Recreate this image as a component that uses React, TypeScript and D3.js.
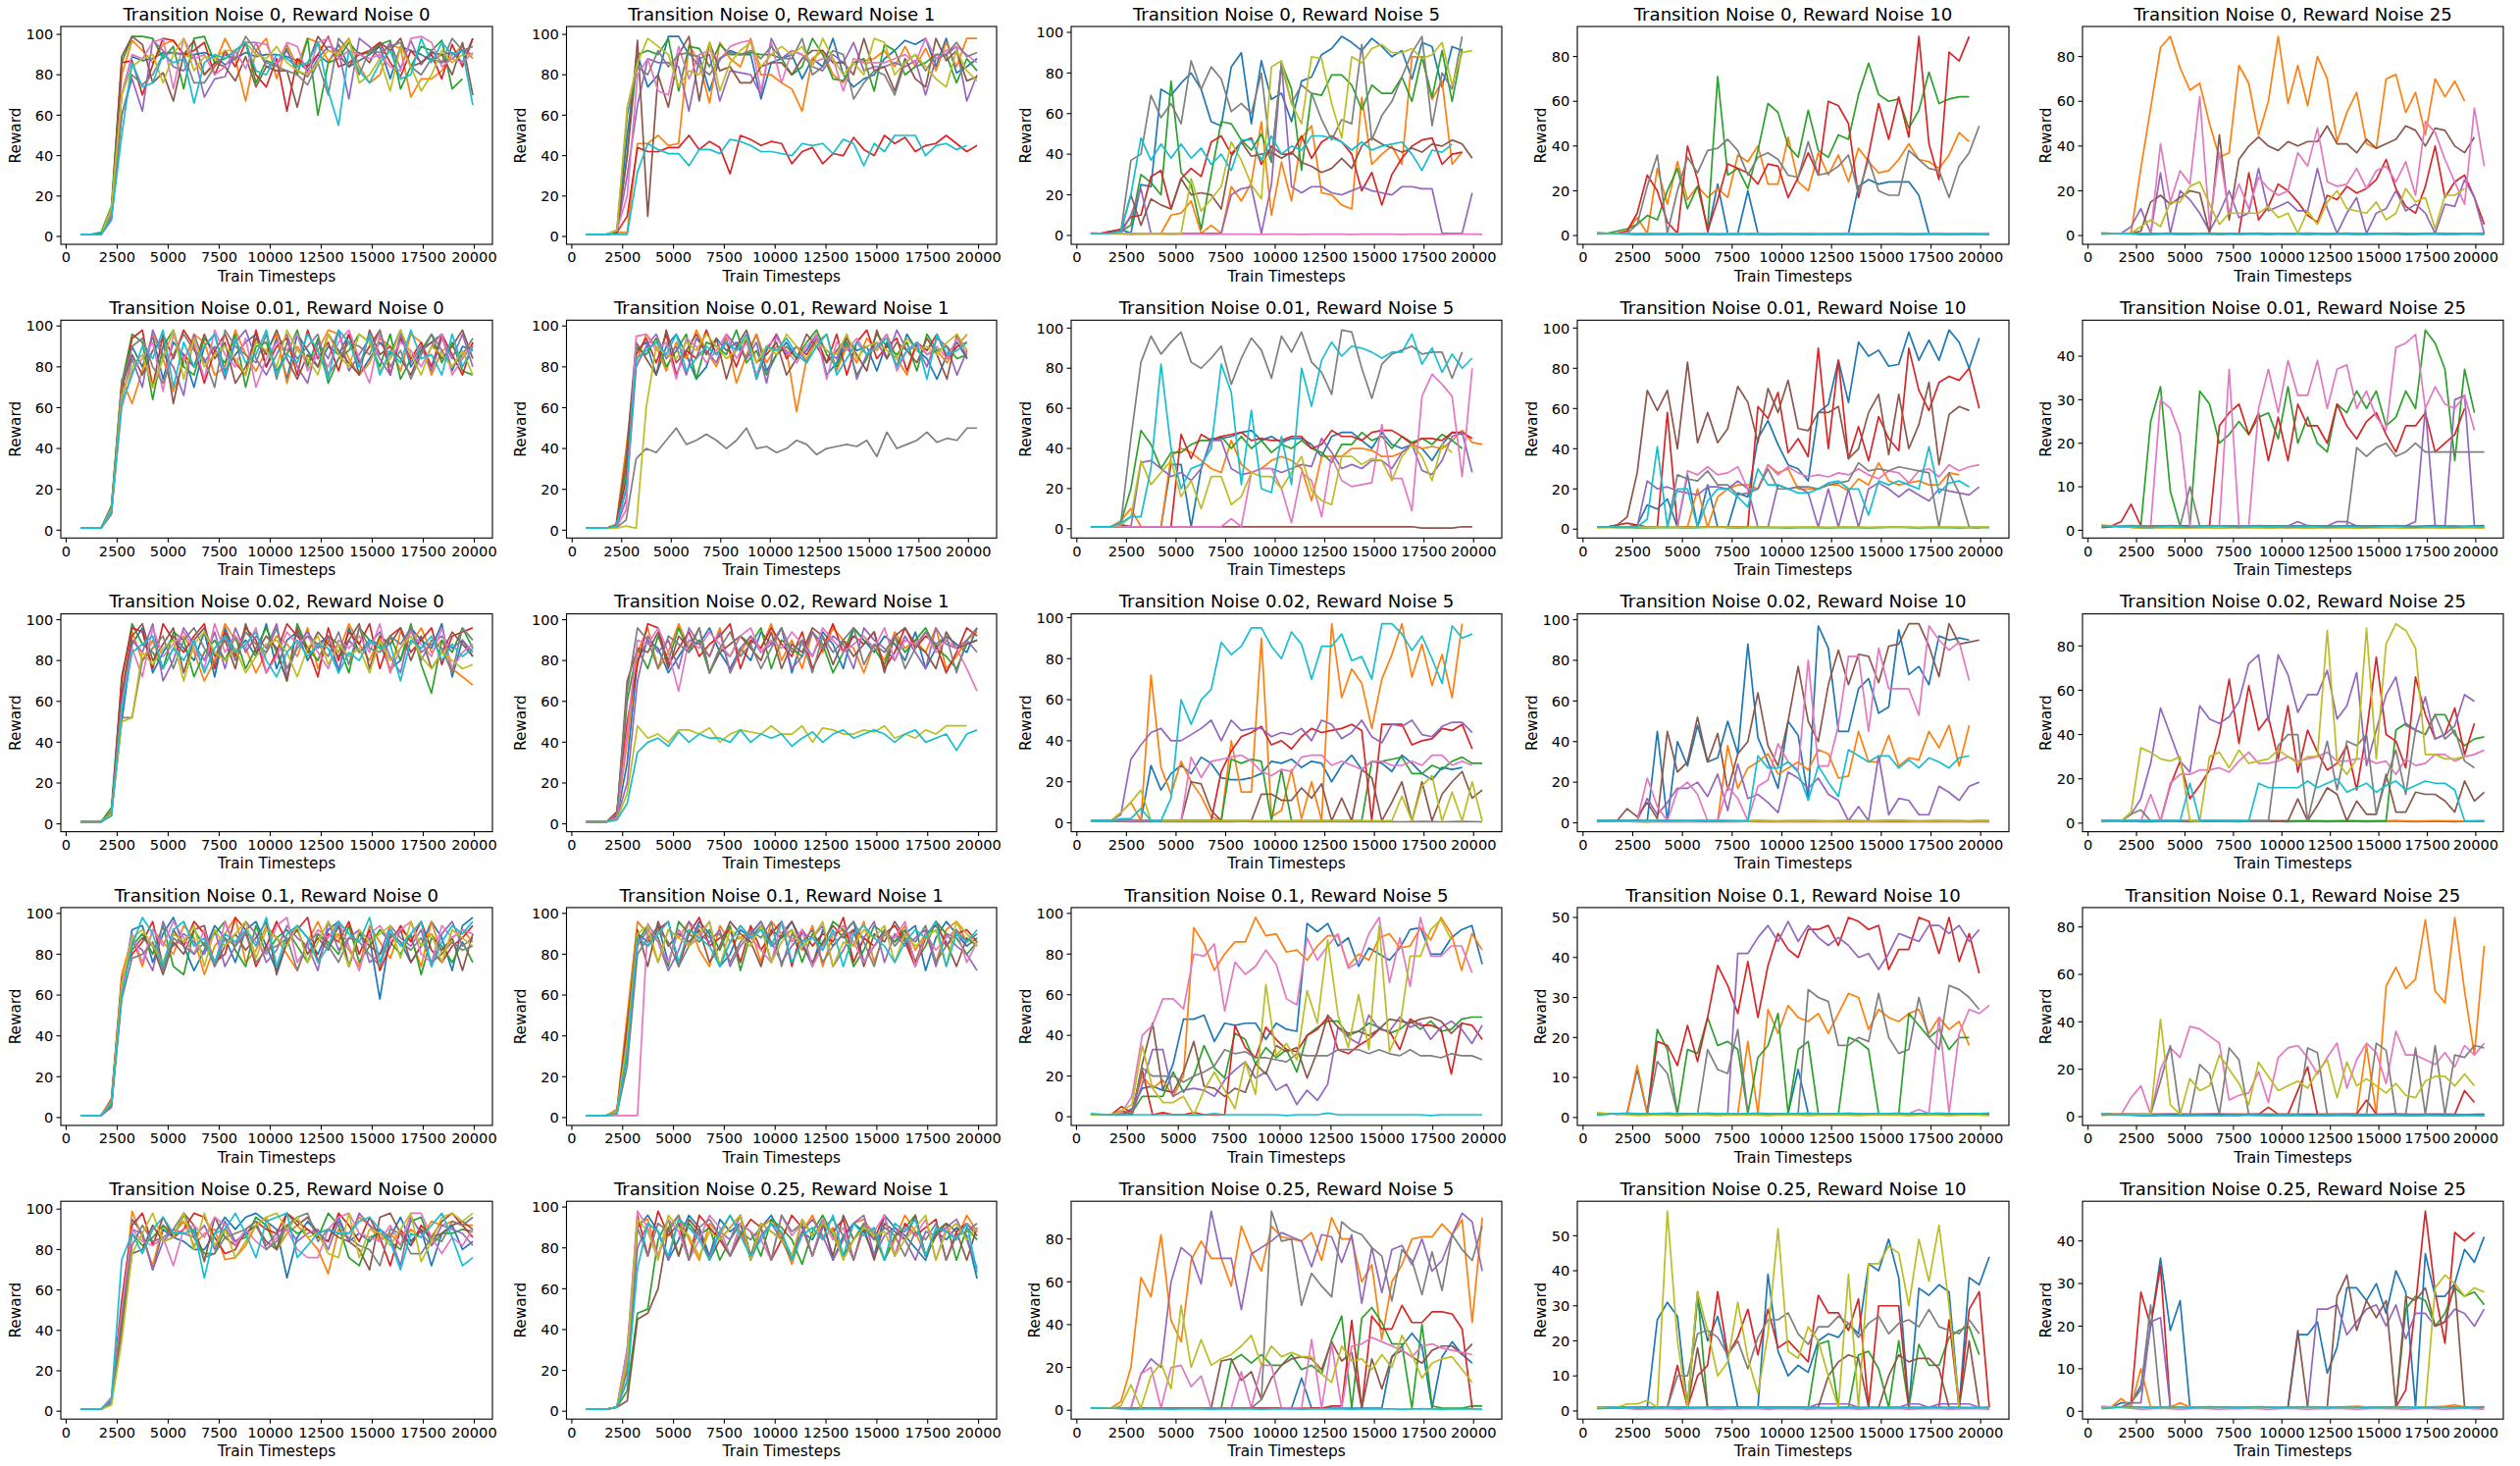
import React from "react";
import * as d3 from "d3";

const TIMESTEPS = [700, 1206, 1712, 2218, 2724, 3230, 3736, 4242, 4748, 5254, 5760, 6266, 6772, 7278, 7784, 8290, 8796, 9302, 9808, 10314, 10820, 11326, 11832, 12338, 12844, 13350, 13856, 14362, 14868, 15374, 15880, 16386, 16892, 17398, 17904, 18410, 18916, 19422, 19928, 20434];
const X_TICKS = [0, 2500, 5000, 7500, 10000, 12500, 15000, 17500, 20000];
const TRANSITION_NOISE = ["0", "0.01", "0.02", "0.1", "0.25"];
const REWARD_NOISE = ["0", "1", "5", "10", "25"];
const COLORS = ["#1f77b4", "#ff7f0e", "#2ca02c", "#d62728", "#9467bd", "#8c564b", "#e377c2", "#7f7f7f", "#bcbd22", "#17becf"];

const FLAT_A = "1 1 0.8 0.9 0.7 0.6 0.8 0.9 0.8 0.7 0.8 0.9 1 0.8 0.7 0.8 0.9 0.8 0.8 0.7 0.8 0.9 0.8 0.7 0.8 0.9 0.8 0.7 0.8 0.9 1 0.8 0.7 0.8 0.9 0.8 0.7 0.8 0.9 0.8";
const FLAT_B = "1.2 1 0.9 0.7 0.5 0.6 0.7 0.6 0.5 0.6 0.7 0.6 0.5 0.6 0.6 0.7 0.6 0.5 0.6 0.7 0.6 0.5 0.6 0.6 0.7 0.6 0.5 0.6 0.7 0.6 0.6 0.5 0.6 0.7 0.6 0.5 0.6 0.7 0.6 0.5";
const FLAT_C = "0.6 0.8 1 1.1 1 0.9 1 1.1 1 0.9 1 1.1 1 1 0.9 1 1.1 1 0.9 1 1 1.1 1 0.9 1 1.1 1 0.9 1 1 1.1 1 0.9 1 1.1 1 1 0.9 1 1.1";

// ---------- Transition Noise 0 ----------
const TN0_RN0 = [
  "1 1 1 9 70 89 87 88 91 91 90 90 91 89 85 88 91 89 90 90 89 87 82 90 86 95 84 87 90 94 78 94 92 90 87 90 91 86 98",
  "1 1 1 12 80 97 92 86 95 97 90 88 80 85 98 88 67 92 98 78 95 84 98 96 87 92 98 84 76 80 95 93 69 78 78 82 90 94 88",
  "1 1 2 15 86 99 99 98 88 94 73 98 99 86 88 92 96 76 87 85 93 80 98 60 86 88 96 90 91 95 97 73 84 94 92 97 73 78",
  "1 1 1 10 86 87 70 85 98 97 90 92 96 80 92 84 96 80 74 88 62 88 84 90 99 84 86 90 92 96 86 79 92 86 90 78 95 84 98",
  "1 1 1 8 60 78 62 97 92 84 82 90 69 78 79 92 96 96 84 85 92 82 79 88 94 92 68 98 94 88 96 83 97 85 92 86 88 92 90",
  "1 1 1 12 89 99 95 76 81 67 90 97 80 86 84 77 89 74 84 82 82 64 85 99 92 90 84 91 86 96 92 98 84 86 91 90 80 96 70",
  "1 1 1 12 70 90 88 96 98 73 98 88 90 80 84 92 83 96 95 85 96 94 80 96 98 88 92 90 88 90 84 82 98 99 96 84 88 86 91",
  "1 1 1 10 60 80 75 80 90 91 90 76 76 84 90 88 99 92 86 84 82 80 75 86 70 98 92 80 92 91 94 96 84 80 88 86 98 92 94",
  "1 1 1 14 70 84 88 90 76 90 98 82 89 88 92 92 96 90 88 94 86 82 80 86 92 90 98 76 80 88 72 94 84 72 80 92 86 90 90",
  "1 1 1 9 50 86 74 76 90 86 88 66 86 90 88 92 96 82 80 90 88 84 86 96 72 55 92 82 76 86 92 78 80 98 86 96 90 92 65",
];
const TN0_RN1 = [
  "1 1 1 2 50 90 74 80 99 99 90 89 72 88 92 90 90 68 86 88 90 78 88 84 98 80 74 78 80 88 92 97 95 98 84 98 81 84 88",
  "1 1 1 2 2 46 46 50 45 46 95 86 66 96 88 84 98 80 80 76 73 62 88 92 80 76 86 87 88 92 84 94 84 93 82 96 84 98 98",
  "1 1 1 3 40 90 92 90 98 72 94 93 84 95 90 90 91 90 90 88 80 84 98 90 78 77 86 88 72 95 92 80 84 86 90 90 76 88 82",
  "1 1 1 2 10 44 42 42 44 44 50 43 47 44 31 50 48 45 47 46 36 42 44 36 41 40 49 43 40 50 46 49 42 45 46 50 46 42 45",
  "1 1 1 2 30 65 88 86 86 84 62 88 90 67 82 81 80 70 98 88 92 90 84 82 90 86 96 82 84 84 86 84 87 70 88 90 94 67 80",
  "1 1 1 2 40 97 10 80 64 90 99 67 96 82 84 76 76 84 86 86 80 88 92 92 86 86 80 98 82 84 72 88 78 74 98 87 92 77 79",
  "1 1 1 3 20 80 88 72 70 94 78 90 92 87 94 96 97 72 96 76 92 90 86 88 88 72 88 86 86 86 88 90 86 98 88 92 94 90 86",
  "1 1 1 3 60 84 80 92 84 90 91 84 80 88 91 90 92 88 94 88 88 98 80 84 92 90 68 76 82 80 70 86 90 82 90 90 96 89 91",
  "1 1 1 3 64 86 98 94 90 74 82 80 96 72 86 92 96 84 90 94 90 94 84 98 88 80 86 80 98 96 80 86 90 84 78 74 92 82 77",
  "1 1 1 1 1 32 46 43 41 41 35 43 43 41 48 47 45 42 42 41 40 46 45 46 41 48 46 35 46 42 50 50 50 40 45 46 43 45",
];
const TN0_RN5 = [
  "1 1 2 3 1 25 24 72 69 75 80 72 56 54 83 90 55 86 67 70 56 76 78 89 92 98 95 91 97 93 88 91 77 95 93 73 93 91",
  "1 1 1 1 1 1 1 1 10 11 17 1 5 1 24 17 26 56 10 36 17 48 54 21 20 15 13 68 35 40 44 35 88 88 67 76 35 41",
  "1 1 1 2 5 30 26 20 76 31 25 3 30 56 55 47 42 50 36 85 72 32 70 69 79 79 74 62 74 70 70 78 66 88 68 91 66 92",
  "1 1 2 3 9 10 29 32 13 28 33 29 46 49 40 46 48 35 44 40 40 49 38 46 49 46 40 22 31 15 30 38 44 47 48 35 40 41",
  "1 1 1 1 10 23 1 1 1 1 1 1 1 1 20 23 24 1 25 85 24 21 24 24 21 20 22 24 22 21 20 24 24 23 23 1 1 1 21",
  "1 1 1 2 20 5 18 15 13 28 20 21 20 13 39 46 39 40 41 38 41 36 34 31 33 38 33 44 48 45 43 41 43 41 45 44 47 45 38",
  FLAT_B,
  "1 1 1 2 37 40 69 58 65 55 86 72 83 77 61 65 60 80 37 84 65 74 70 57 47 57 55 94 47 59 66 78 90 98 54 80 72 98",
  "1 1 1 1 1 1 1 1 1 1 28 12 18 24 46 37 25 18 83 86 65 55 88 87 65 48 88 85 92 94 90 90 92 87 89 95 74 90 91",
  "1 1 1 2 20 48 37 45 38 45 38 43 35 40 32 47 47 37 49 40 44 42 49 49 48 46 42 46 42 44 45 46 40 32 42 41 45",
];
const TN0_RN10 = [
  "1 1 1 1 1 1 1 1 1 1 1 1 23 1 1 20 1 1 1 1 1 1 1 1 1 1 22 25 23 24 24 24 18 1 1 1 1 1 1",
  "1 1 1 2 8 1 30 14 33 16 22 17 21 17 36 33 40 23 23 44 24 20 37 27 36 24 39 33 28 29 34 41 34 33 30 36 46 42",
  "1 1 2 3 5 9 7 20 30 12 22 3 71 27 30 21 38 59 55 40 35 56 38 35 45 43 63 77 63 60 61 48 56 73 59 61 62 62",
  "1 1 1 2 10 27 20 6 1 40 25 2 16 32 30 28 23 32 31 17 26 37 27 60 58 50 17 36 59 43 62 44 89 41 25 82 78 89",
  FLAT_A,
  FLAT_B,
  FLAT_C,
  "1 1 1 1 5 22 36 1 20 35 28 38 39 43 38 27 35 37 34 27 26 42 27 28 31 36 19 34 20 18 18 38 34 30 29 17 31 37 49",
  FLAT_A,
  FLAT_B,
];
const TN0_RN25 = [
  FLAT_A,
  "1 1 1 1 30 57 84 89 75 65 68 50 35 37 76 68 45 60 89 59 76 58 80 70 42 55 64 41 39 70 72 55 64 45 70 62 69 60",
  FLAT_B,
  "1 1 1 1 1 1 1 1 1 1 1 1 1 1 1 28 7 13 23 20 15 9 6 18 16 22 19 21 25 34 21 13 10 22 40 17 24 27 17 5",
  "1 1 1 4 12 1 28 1 20 16 10 2 10 20 8 10 30 11 13 15 11 11 30 12 1 10 17 1 10 12 20 11 14 10 1 14 13 25 17 1",
  "1 1 1 1 2 15 18 14 17 20 19 1 45 7 34 40 44 40 38 42 40 42 42 49 41 41 37 43 39 41 43 49 47 40 48 47 40 37 44",
  "1 1 1 1 1 1 41 15 29 23 62 5 37 10 23 12 26 21 18 20 37 31 48 24 22 23 30 21 29 31 24 33 18 51 46 34 24 14 57 31",
  FLAT_C,
  "1 1 1 1 4 7 4 15 15 22 24 14 5 10 10 10 10 13 8 10 1 11 5 15 20 12 11 10 15 7 10 21 15 17 3 18 18 21",
  FLAT_A,
];

// ---------- Transition Noise 0.01 ----------
const TN001_RN0 = [
  "1 1 1 8 70 90 80 95 74 92 86 70 90 96 78 86 92 96 80 94 74 96 88 80 90 86 96 76 84 92 86 98 80 88 92 96 78 90 88",
  "1 1 1 10 74 62 78 96 84 68 82 96 92 76 80 98 86 78 88 96 72 90 82 88 98 96 84 76 82 94 90 78 96 92 76 88 90 84 92",
  "1 1 1 12 72 96 92 64 90 98 80 76 94 88 82 96 70 90 92 78 86 98 80 94 72 84 88 96 92 80 96 74 84 88 96 82 92 78 76",
  "1 1 1 10 68 94 98 70 96 84 98 90 72 88 96 82 76 98 80 90 94 76 98 84 92 78 96 82 90 98 76 94 84 92 80 96 86 76 92",
  "1 1 1 8 64 84 70 98 86 80 66 96 82 90 74 92 98 84 76 86 96 80 72 92 84 98 78 86 94 84 76 96 82 90 78 94 84 96 80",
  "1 1 1 10 70 86 76 88 94 62 86 80 96 84 92 72 80 94 86 98 84 74 86 80 96 88 82 76 98 86 90 84 76 88 92 84 90 98 84",
  "1 1 1 9 60 78 84 92 68 96 84 92 74 98 86 80 94 70 84 92 88 96 78 86 80 92 98 84 72 96 84 92 88 80 90 96 76 84 90",
  "1 1 1 11 72 90 94 80 72 86 96 88 84 70 98 90 86 82 96 74 92 84 90 96 76 84 92 90 86 98 80 88 74 86 96 88 80 86 94",
  "1 1 1 10 66 80 86 70 84 98 74 94 80 86 90 84 76 92 88 80 98 88 84 76 96 86 80 96 92 78 84 98 86 76 90 86 80 88 76",
  "1 1 1 9 62 76 90 84 98 70 92 80 90 96 76 94 82 86 98 76 86 82 96 88 74 98 92 80 96 76 88 82 98 84 86 76 96 80 90",
];
const TN001_RN1 = [
  "1 1 1 2 20 88 92 76 90 96 86 74 80 94 88 92 84 96 78 86 92 84 88 96 76 82 94 88 90 78 92 80 96 88 84 74 86 92 84",
  "1 1 1 3 40 82 96 90 78 92 84 98 88 80 94 72 86 96 82 90 88 58 84 92 96 78 90 82 94 88 96 84 76 92 86 88 82 90 96",
  "1 1 1 2 30 90 86 94 80 88 96 74 92 90 86 98 82 88 76 86 90 84 92 98 86 80 92 76 84 96 90 86 92 78 96 88 90 84 86",
  "1 1 1 2 25 86 94 82 96 76 88 84 98 86 92 80 94 74 88 96 84 90 86 94 82 96 76 92 98 84 90 94 78 92 88 96 84 90 92",
  "1 1 1 1 15 80 90 96 84 90 76 94 88 82 96 90 84 92 72 96 86 90 82 94 88 84 96 74 86 92 84 98 88 90 80 94 90 76 88",
  "1 1 1 2 35 92 84 76 98 82 88 96 86 94 74 90 98 82 86 92 76 84 96 90 82 88 94 86 78 98 84 92 88 82 94 86 74 96 84",
  "1 1 1 1 10 95 96 88 92 74 94 90 82 88 96 84 92 76 90 94 88 82 90 96 74 92 88 94 86 90 96 78 88 92 86 90 84 94 86",
  "1 1 1 1 5 35 40 38 44 50 42 44 47 44 40 44 50 40 41 38 40 44 42 37 40 41 42 41 44 36 48 40 42 44 48 43 45 44 50 50",
  "1 1 1 1 2 1 60 90 86 84 92 88 96 90 84 88 94 82 90 86 96 90 84 92 88 86 96 84 90 92 88 84 94 88 90 86 92 96 88",
  "1 1 1 2 20 84 88 92 86 96 78 84 90 86 92 88 96 74 90 88 94 86 82 90 96 76 84 92 86 90 94 80 88 92 74 96 86 88 92",
];
const TN001_RN5 = [
  "1 1 1 2 1 1 1 1 32 32 1 30 45 45 46 48 49 44 46 43 45 45 42 36 46 48 48 44 40 48 42 40 42 40 34 42 48 47",
  "1 1 1 4 10 1 1 1 36 40 38 34 30 28 44 32 28 30 34 36 34 30 14 36 36 36 40 40 39 36 36 38 42 40 41 40 44 49 43 42",
  "1 1 1 3 20 49 42 30 38 38 42 44 44 46 40 46 40 44 38 42 40 44 40 38 33 42 42 48 44 46 40 46 43 45 42 47 44 40",
  "1 1 1 2 1 1 1 1 1 47 35 47 44 46 47 48 44 45 44 44 46 46 40 42 49 46 46 44 48 49 49 46 42 45 45 44 48 48 45",
  "1 1 1 1 1 33 34 30 26 28 24 30 44 44 30 27 28 30 30 28 30 32 31 45 38 30 32 30 34 34 30 38 42 29 27 34 46 48 28",
  "1 1 1 1 1 1 1 1 1 1 1 1 1 1 1 1 1 1 1 1 1 1 1 1 1 1 1 1 1 1 1 1 1 0.3 0.3 0.3 0.3 1 1",
  "1 1 1 1 1 1 1 1 1 1 1 1 1 1 5 1 28 30 30 20 3 28 24 6 36 24 21 22 23 52 25 25 9 66 77 72 66 26 80",
  "1 1 1 3 45 83 96 87 93 98 83 80 85 91 72 85 95 89 75 96 88 98 83 78 67 99 98 80 65 82 87 89 91 87 88 88 75 88",
  "1 1 1 2 6 34 22 28 34 16 24 10 26 26 12 16 28 26 26 20 28 36 19 14 12 36 36 32 35 34 24 36 42 36 24 42 38",
  "1 1 1 3 6 6 30 82 40 20 30 32 40 82 68 22 59 20 18 46 22 80 61 84 93 86 91 90 88 85 88 88 97 82 90 78 87 80 85",
];
const TN001_RN10 = [
  "1 1 1 1 2 12 10 15 1 27 1 22 1 1 18 16 45 54 42 32 30 24 58 62 84 63 93 86 89 81 82 98 84 94 84 99 93 80 95",
  "1 1 1 1 1 1 1 1 1 1 20 1 16 20 22 22 20 32 28 30 20 20 20 22 22 19 25 22 33 24 22 23 24 22 22 28 27",
  FLAT_A,
  "1 1 2 3 2 1 1 58 1 1 1 1 1 1 1 1 61 55 68 38 45 36 90 40 84 35 51 34 56 45 39 90 69 59 73 76 74 80 60",
  "1 1 1 1 1 24 20 21 19 18 17 21 21 20 24 20 1 1 22 20 21 18 1 20 1 20 1 20 23 20 16 20 17 14 20 19 18 17 21",
  "1 1 2 6 28 69 59 69 40 83 43 58 43 50 71 63 43 70 58 74 50 49 58 58 61 35 40 58 67 37 67 40 52 73 32 57 61 59",
  "1 1 1 1 1 1 1 1 1 29 27 31 27 28 31 20 20 32 27 31 28 26 27 26 28 27 30 27 25 29 28 23 29 30 26 32 29 31 32",
  "1 1 1 1 1 1 1 1 27 25 24 29 22 22 17 18 20 30 20 20 21 21 20 22 23 24 33 29 30 29 31 30 29 28 1 28 18 1 0.5",
  FLAT_C,
  "1 1 1 1 1 5 41 1 20 20 1 14 20 20 16 11 30 22 22 20 18 18 20 23 24 20 20 7 24 22 24 22 20 41 18 23 24 21",
];
const TN001_RN25 = [
  FLAT_A,
  FLAT_B,
  "1 1 1 1 1 25 33 9 1 1 32 29 20 22 25 22 26 27 21 33 20 26 20 18 29 27 32 28 32 24 26 32 28 46 43 37 16 37 27",
  "1 1 2 6 1 1 1 1 1 1 1 1 24 27 29 22 27 16 26 16 29 24 24 20 29 24 21 25 27 22 18 24 24 27 18 20 22 28",
  "1 1 1 1 1 1 1 1 1 1 1 1 1 1 1 1 1 1 1 1 2 1 1 1 2 2 1 1 1 1 1 1 2 28 1 1 30 31 1",
  FLAT_C,
  "1 1 1 1 1 1 30 28 22 1 1 1 1 37 1 1 28 37 27 39 31 31 39 28 37 38 28 32 26 23 42 43 45 28 33 29 28 31 23",
  "1 1 1 1 1 1 1 1 1 10 1 1 1 1 1 1 1 1 1 1 1 1 1 1 1 1 19 17 19 20 17 18 20 18 18 18 18 18 18 18",
  FLAT_B,
  FLAT_A,
];

// ---------- Transition Noise 0.02 ----------
const TN002_RN0 = [
  "1 1 1 5 50 88 96 74 84 92 86 80 94 72 96 84 90 82 98 76 90 94 80 88 92 74 96 84 90 88 76 80 96 90 86 98 72 90 82",
  "1 1 1 6 62 94 80 90 76 86 92 84 70 80 98 90 86 74 84 92 88 82 96 76 90 84 98 88 80 92 74 94 88 96 84 90 76 72 68",
  "1 1 1 8 70 98 88 84 76 94 90 72 84 90 80 92 76 86 96 84 70 98 86 80 92 88 74 96 90 86 92 80 98 78 64 90 84 96 86",
  "1 1 1 4 72 96 94 76 98 90 84 92 98 76 94 82 96 90 74 84 98 92 86 72 96 80 94 88 98 76 92 96 84 90 96 78 92 94 96",
  "1 1 1 5 60 90 84 98 70 80 96 88 80 94 76 96 84 92 86 98 72 88 94 86 92 76 90 84 88 94 82 74 96 84 88 92 86 90 84",
  "1 1 1 6 64 92 98 80 88 96 74 90 96 82 90 76 98 84 92 86 70 96 84 94 88 82 90 98 76 92 88 96 80 92 76 84 94 88 82",
  "1 1 1 5 58 86 72 96 82 88 94 86 76 98 84 92 86 96 74 82 94 88 92 84 76 90 86 92 84 98 74 86 94 88 82 96 76 84 88",
  "1 1 1 6 52 52 80 86 92 76 90 96 86 78 92 80 94 88 84 96 76 86 92 88 82 94 78 96 86 84 92 88 96 80 90 86 74 96 90",
  "1 1 1 5 50 52 84 78 86 90 70 88 94 84 80 86 74 82 88 90 84 72 86 92 78 88 82 86 74 90 80 86 92 82 76 84 80 76 78",
  "1 1 1 4 56 84 88 92 76 86 80 90 74 86 92 84 88 94 80 72 84 90 82 88 86 74 84 80 90 86 88 70 90 86 92 80 88 82 86",
];
const TN002_RN1 = [
  "1 1 1 3 30 80 90 86 74 82 90 88 96 84 76 86 80 94 88 96 74 90 82 94 88 76 96 90 84 92 88 80 94 76 86 92 88 84 96",
  "1 1 1 4 40 84 96 76 84 98 86 90 82 96 74 84 92 86 98 80 90 76 94 84 96 90 86 74 88 80 94 86 90 84 96 76 82 90 94",
  "1 1 1 5 60 86 76 92 80 96 84 90 74 86 82 92 88 96 76 90 86 82 94 88 74 84 96 90 86 78 92 84 90 96 86 82 76 88 90",
  "1 1 1 6 50 78 98 96 78 86 94 82 88 92 98 76 90 86 96 88 82 94 76 86 98 84 92 88 94 76 84 96 86 92 88 74 84 96 92",
  "1 1 1 3 20 70 92 84 90 76 96 88 82 94 74 86 92 84 88 96 76 82 94 86 92 88 76 96 90 86 80 92 84 76 96 88 86 90 84",
  "1 1 1 4 70 86 84 94 76 92 86 96 74 84 88 92 86 80 94 76 88 84 96 92 78 90 82 88 94 74 92 96 88 84 76 94 86 88 90",
  "1 1 1 3 45 90 88 96 84 65 90 86 94 88 82 92 96 84 90 86 94 88 82 96 90 84 88 92 86 96 80 90 88 94 84 90 86 76 65",
  "1 1 1 5 65 96 90 76 92 88 84 96 74 86 94 82 88 76 86 96 84 90 74 92 84 90 96 78 88 84 92 76 86 94 88 92 74 90 96",
  "1 1 1 2 15 48 42 44 40 46 46 44 47 40 44 46 45 44 48 44 44 48 40 47 46 44 44 46 45 48 42 44 42 46 44 48 48 48",
  "1 1 1 2 10 35 40 42 38 45 40 44 42 42 40 46 40 44 42 44 38 42 45 40 44 46 42 44 46 44 40 44 46 40 42 44 36 44 46",
];
const TN002_RN5 = [
  "1 1 1 1 1 1 28 16 24 28 24 32 29 22 21 21 22 24 30 29 31 27 30 29 20 28 33 26 30 29 25 33 29 24 21 27 26 27",
  "1 1 1 5 10 1 72 27 14 30 20 13 3 1 40 15 15 90 3 6 26 2 20 1 97 61 75 68 46 70 82 97 71 87 67 82 61 97",
  "1 1 1 1 1 1 1 1 1 1 1 1 1 1 31 29 31 30 1 26 1 1 1 1 1 1 1 1 30 30 31 32 24 24 28 26 30 32 29 29",
  "1 1 1 1 1 1 1 1 1 1 1 1 1 25 35 42 44 47 38 40 36 42 46 44 45 46 48 45 1 48 48 48 38 40 41 46 45 48 36",
  "1 1 1 4 31 38 44 46 40 40 43 46 50 40 50 45 46 46 42 44 43 46 40 50 48 41 44 50 42 39 48 47 50 43 42 47 49 49 44",
  "1 1 1 1 1 1 1 1 1 1 20 19 6 1 1 1 1 14 14 11 11 17 12 19 1 12 1 26 22 1 10 20 1 20 1 14 20 25 12 16",
  "1 1 1 1 1 1 1 1 1 1 32 22 30 31 32 33 30 25 23 26 25 32 33 33 28 30 28 26 30 30 28 28 30 28 33 33 28 30 28",
  FLAT_B,
  "1 1 1 5 10 16 1 1 1 1 1 1 1 1 1 1 1 1 1 1 1 1 1 1 1 1 1 1 1 1 1 13 1 18 23 1 15 1 20 1",
  "1 1 1 2 2 7 1 1 12 60 48 60 65 88 82 86 95 95 86 80 93 87 70 86 86 92 79 81 70 97 97 92 84 91 80 68 96 90 92",
];
const TN002_RN10 = [
  "1 1 1 1 1 1 45 1 40 28 48 30 32 50 34 88 42 30 17 50 43 12 97 86 45 45 66 71 54 57 95 73 77 68 92 90 91 90",
  "1 1 1 1 1 1 1 1 1 1 1 1 1 38 17 27 30 34 24 27 30 26 36 34 22 23 45 30 30 43 28 32 31 45 37 48 28 48",
  FLAT_A,
  FLAT_B,
  "1 1 1 1 1 12 4 10 17 17 20 13 24 6 29 12 14 10 5 25 22 17 22 14 11 1 8 1 33 4 12 11 4 4 18 15 11 18 20",
  "1 1 1 7 3 10 2 45 25 30 52 30 44 16 34 40 64 38 28 50 77 50 40 68 85 68 83 82 69 87 88 98 98 87 72 98 88 89 90",
  "1 1 1 1 1 22 8 1 16 20 14 1 1 18 12 1 18 21 39 30 26 80 28 28 48 82 82 45 86 66 66 66 53 97 90 85 89 70",
  FLAT_C,
  FLAT_A,
  "1 1 1 1 1 1 1 1 1 1 1 1 1 1 1 1 33 27 27 30 25 11 28 20 13 36 33 30 33 33 27 31 27 32 30 27 32 33",
];
const TN002_RN25 = [
  FLAT_A,
  FLAT_C,
  "1 1 1 1 1 1 1 1 1 1 1 1 1 1 1 1 1 1 1 1 1 1 1 1 1 1 1 1 1 1 42 45 42 40 49 49 40 35 38 39",
  "1 1 1 1 1 1 1 17 28 11 17 24 40 65 36 62 42 48 29 53 23 42 32 24 27 35 15 41 75 40 37 25 66 49 38 40 52 31 45",
  "1 1 1 4 11 27 52 40 28 23 53 47 45 48 55 72 76 46 76 67 50 58 58 69 47 53 68 26 42 58 66 44 42 57 38 40 44 58 55",
  "1 1 1 1 1 1 1 1 1 1 1 1 1 1 1 1 1 1 1 1 11 1 8 16 13 1 10 4 4 22 5 5 14 13 13 10 5 19 10 14",
  "1 1 1 1 1 13 1 18 22 22 24 24 25 23 28 32 27 27 28 30 28 29 30 32 28 28 29 29 27 28 22 29 26 27 31 31 28 30 31 33",
  "1 1 1 4 6 1 1 1 1 1 1 1 1 1 1 1 1 1 35 40 40 1 20 37 15 37 35 40 4 20 33 13 42 40 49 38 42 28 25",
  "1 1 1 5 34 32 29 28 30 1 1 30 32 25 33 27 28 29 33 30 27 30 30 87 28 22 29 88 29 81 90 87 79 31 31 29 29 30",
  "1 1 1 1 1 1 1 1 1 18 1 1 1 1 1 1 18 16 16 16 16 19 16 18 20 14 16 18 14 17 19 15 17 19 18 18 15 1 1 1",
];

// ---------- Transition Noise 0.1 ----------
const TN01_RN0 = [
  "1 1 1 6 62 92 94 76 90 98 84 72 82 94 88 76 92 96 84 72 86 94 88 80 92 96 74 90 88 58 90 86 76 84 96 88 72 94 98",
  "1 1 1 8 70 88 74 92 86 80 94 88 70 84 90 98 76 82 94 88 80 72 86 96 84 90 82 74 94 86 78 92 88 74 96 80 88 92 86",
  "1 1 1 7 66 84 90 80 94 74 70 92 84 90 96 82 74 94 80 88 92 84 76 90 86 80 94 76 84 92 86 80 90 70 88 84 76 86 76",
  "1 1 1 9 68 80 86 96 74 92 84 96 90 76 80 98 92 74 84 96 86 92 98 76 90 86 96 80 92 72 84 94 86 96 82 76 84 88 94",
  "1 1 1 5 60 86 82 72 96 84 90 86 80 92 74 84 96 90 76 82 94 88 84 72 96 82 88 92 76 80 94 88 84 92 74 90 96 84 88",
  "1 1 1 6 64 82 88 84 70 86 80 92 94 74 84 90 82 88 96 70 86 92 80 88 82 94 74 90 84 80 88 92 76 84 90 82 88 72 90",
  "1 1 1 7 62 90 76 92 84 96 88 80 92 74 96 84 92 86 80 94 98 76 84 92 88 96 84 72 90 94 86 92 96 80 76 94 88 92 90",
  "1 1 1 6 58 78 80 86 72 88 84 80 86 74 88 84 90 76 82 84 88 72 86 90 84 76 88 86 80 74 90 86 82 88 76 80 86 82 84",
  "1 1 1 8 66 88 92 84 76 90 86 94 74 92 84 90 96 78 92 88 84 94 76 86 96 88 74 92 86 90 94 78 96 84 90 76 92 88 84",
  "1 1 1 7 60 84 98 90 74 92 96 84 88 76 90 86 92 84 98 74 90 94 88 76 84 96 90 86 98 76 92 84 90 96 74 86 94 90 96",
];
const TN01_RN1 = [
  "1 1 1 3 40 90 86 94 76 92 84 96 90 74 80 92 88 94 76 90 96 86 74 92 84 90 96 76 84 92 86 90 94 72 88 96 90 84 88",
  "1 1 1 4 50 96 90 76 92 88 96 82 74 94 86 88 92 76 96 90 88 82 94 74 90 92 84 96 76 90 86 94 82 90 76 92 96 86 90",
  "1 1 1 2 30 86 94 88 74 96 90 86 92 82 94 72 90 96 84 88 92 76 90 84 96 92 74 82 94 90 86 92 76 84 96 90 88 80 86",
  "1 1 1 3 45 88 84 92 96 74 90 98 84 88 92 76 94 82 90 96 74 92 84 90 86 98 76 88 84 90 94 86 74 88 96 84 90 92 86",
  "1 1 1 2 35 84 92 86 72 82 96 90 86 92 74 84 90 96 86 76 84 90 88 94 74 82 92 88 96 76 90 84 88 92 74 90 84 80 72",
  "1 1 1 3 42 92 74 96 84 90 86 92 76 84 96 90 86 74 92 88 96 84 76 86 94 88 92 74 90 86 96 88 76 90 94 86 74 88 84",
  "1 1 1 1 1 1 95 86 76 92 84 88 96 74 86 94 88 82 76 96 86 92 74 84 90 94 86 76 84 90 88 96 74 90 82 88 92 76 86",
  "1 1 1 2 25 80 88 92 86 74 84 94 88 90 76 86 92 88 96 74 90 86 92 76 84 90 96 86 74 92 84 90 86 94 76 84 92 86 90",
  "1 1 1 3 38 90 94 76 92 88 84 90 96 74 92 88 84 94 76 86 92 84 88 96 74 86 84 92 88 94 76 90 84 88 92 74 96 90 84",
  "1 1 1 2 32 88 84 90 96 76 92 88 84 74 86 94 88 92 84 96 76 86 88 82 92 74 90 94 88 84 76 86 92 88 96 74 90 86 92",
];
const TN01_RN5 = [
  "1 1 1 1 4 14 15 13 26 48 48 50 37 46 45 46 46 38 46 43 42 95 91 95 84 88 74 83 80 77 83 92 93 80 80 88 92 94 75",
  "1 1 1 2 3 20 14 18 10 20 93 85 72 80 86 86 98 89 90 81 82 77 84 89 89 74 80 77 88 90 83 84 93 87 98 90 72 90 82",
  "1 1 1 1 2 10 10 10 22 12 20 35 24 19 41 38 26 34 29 33 22 40 44 47 47 40 42 46 44 41 43 47 43 47 42 43 48 49 49",
  "1 1 1 5 2 23 1 2 1 1 2 1 1 1 45 34 29 44 38 33 32 40 43 49 33 31 35 38 43 42 33 48 45 45 43 21 46 45 38",
  "1 1 1 1 1 16 33 33 10 13 14 13 10 18 23 27 19 22 13 16 6 13 8 16 44 39 36 50 43 42 49 44 46 38 44 47 43 36 45",
  "1 1 1 3 1 26 46 13 12 22 37 15 14 10 14 12 26 21 35 32 34 19 32 50 44 41 42 40 43 48 47 46 48 49 47 41 46",
  "1 1 1 2 10 40 45 58 58 53 80 79 85 52 76 70 74 82 75 58 55 88 77 84 90 73 76 90 98 66 88 64 98 79 79 84 84 71",
  "1 1 1 1 2 24 20 20 20 17 20 22 25 33 31 32 29 29 28 27 31 30 30 30 33 33 33 31 33 31 30 33 30 30 29 31 30 30 28",
  "1 1 1 3 6 35 14 7 7 10 1 13 22 13 4 27 11 65 30 36 28 62 46 87 50 34 60 33 94 32 44 79 79 92 97 87",
  "1.5 1.2 1 1 1 1 1 1 1 1 0.8 1 1.5 1 1 1 1 1 1 0.6 1 1 1 1.8 1 1 1 1 1 1 1 1 1 0.6 1 1 1 1 1",
];
const TN01_RN10 = [
  "1 1 1 1 12 1 1 1 1 1 1 1 1 1 1 1 1 1 1 1 12 1 1 1 1 1 1 1 1 1 1 1 1 1 1 1 1 1 1",
  "1 1 1 1 13 1 1 1 1 1 1 1 1 1 1 19 1 27 21 28 25 24 26 21 26 31 30 22 27 25 24 26 27 21 25 22 24 18",
  "1 1 1 1 1 1 22 17 1 17 16 25 18 19 17 1 15 18 26 1 17 19 1 1 1 20 19 17 1 1 1 26 23 20 22 17 20 20",
  "1 1 1 1 1 1 19 18 13 23 14 25 38 33 26 39 25 38 46 42 40 47 47 48 43 50 49 47 48 37 42 42 50 49 41 50 39 46 36",
  "1 1 1 1 1 1 1 1 1 1 1 1 1 1 41 41 45 48 44 49 44 48 45 43 45 43 40 41 37 41 46 45 44 48 48 46 48 44 47",
  FLAT_A,
  "1 1 1 1 1 1 1 1 1 1 1 1 1 1 1 1 1 1 1 1 1 1 1 1 1 1 1 1 1 1 1 1 2 1 25 1 21 27 26 28",
  "1 1 1 1 1 1 14 11 1 1 1 17 12 11 22 1 1 1 1 1 1 32 30 29 18 18 20 19 31 20 16 17 30 20 17 33 32 30 27",
  FLAT_B,
  FLAT_C,
];
const TN01_RN25 = [
  FLAT_A,
  "1 1 1 1 1 1 1 1 1 1 1 1 1 1 1 1 1 1 1 1 1 1 1 1 1 1 1 30 1 55 63 54 58 83 53 48 84 53 26 72",
  FLAT_B,
  "1 1 1 1 1 1 1 1 1 1 1 1 1 1 1 1 1 4 1 1 11 21 1 1 1 1 1 7 1 1 1 1 1 1 1 1 1 11 6",
  FLAT_C,
  FLAT_A,
  "1 1 1 8 13 1 20 29 25 38 37 34 31 7 9 10 19 6 25 29 30 25 18 25 31 12 24 31 27 14 36 26 26 24 22 27 21 30 26 31",
  "1 1 1 1 1 1 15 30 1 1 22 18 1 29 24 1 1 1 1 1 1 29 27 1 1 1 1 1 31 28 1 1 29 1 30 1 26 25 30 29",
  "1 1 1 1 1 1 41 5 1 16 11 13 26 20 14 5 23 17 11 13 15 12 19 24 8 23 13 16 13 10 14 9 8 15 17 17 13 18 13",
  FLAT_B,
];

// ---------- Transition Noise 0.25 ----------
const TN025_RN0 = [
  "1 1 1 6 50 95 88 70 90 86 84 80 80 88 96 90 96 98 94 90 66 86 94 88 84 96 84 88 84 90 86 96 84 90 72 88 92 80 84",
  "1 1 1 4 45 99 86 72 92 88 94 82 88 90 75 76 82 92 96 80 88 92 86 80 68 90 88 96 92 84 88 82 90 86 94 92 94 92 92",
  "1 1 1 5 48 88 82 86 92 86 97 88 78 78 90 84 86 96 92 80 92 88 90 86 98 92 76 72 86 88 84 80 94 96 82 88 88 90 89",
  "1 1 1 6 55 92 98 82 96 86 90 98 96 86 78 80 90 94 90 88 98 94 90 86 84 98 92 84 96 86 72 90 82 92 86 94 98 92 86",
  "1 1 1 4 40 90 88 70 84 90 88 86 92 80 94 84 88 92 82 88 92 84 88 90 80 94 84 98 92 88 86 72 96 88 82 92 90 88 82",
  "1 1 1 5 42 78 80 92 84 86 98 92 74 96 86 82 88 92 84 80 98 92 96 88 90 86 84 80 70 96 98 88 82 90 86 88 92 94 90",
  "1 1 1 7 50 90 84 82 86 72 90 92 86 96 92 82 90 84 80 86 90 80 76 76 90 96 98 88 86 84 92 82 98 98 86 78 86 82 90",
  "1 1 1 5 46 82 92 84 86 90 98 86 76 78 86 88 90 94 80 84 92 96 98 84 90 88 86 82 80 72 90 88 78 78 86 84 94 92 96",
  "1 1 1 3 35 78 88 98 84 86 98 80 98 82 90 76 84 92 96 98 90 96 86 88 78 76 98 76 90 88 82 90 98 74 84 96 98 94 98",
  "1 1 1 6 75 88 78 90 96 88 88 90 66 88 90 98 88 76 94 96 98 76 82 88 90 88 88 94 96 90 84 70 88 86 92 98 86 72 76",
];
const TN025_RN1 = [
  "1 1 1 2 30 90 96 88 74 84 96 90 76 94 88 92 74 90 96 86 76 88 84 94 74 86 92 88 76 96 90 86 80 74 88 84 90 86 65",
  "1 1 1 2 20 92 94 76 90 96 84 74 92 86 96 88 76 90 94 86 72 88 96 84 90 76 92 94 86 74 84 96 88 76 86 90 84 96 88",
  "1 1 1 2 10 48 50 84 94 76 92 86 90 74 84 92 88 76 94 90 84 72 88 96 86 76 84 92 88 74 86 90 96 76 88 92 74 90 84",
  "1 1 1 2 25 96 76 98 86 92 74 96 90 84 76 86 94 90 74 84 96 90 76 92 88 94 74 90 84 96 76 92 86 90 94 74 88 92 86",
  "1 1 1 2 15 80 92 88 74 94 90 86 76 88 84 96 74 86 92 84 76 88 94 86 74 84 92 96 76 86 90 84 74 88 86 90 94 84 70",
  "1 1 1 2 5 45 48 60 90 76 94 88 74 84 90 96 76 92 88 84 74 94 86 92 76 96 84 90 74 92 88 84 96 76 86 92 88 74 90",
  "1 1 1 2 30 98 90 76 94 88 74 84 96 90 76 92 88 84 74 96 86 92 76 94 84 90 74 92 88 96 76 90 86 94 74 90 84 92 88",
  "1 1 1 2 20 90 76 92 88 96 74 90 94 86 76 88 84 90 74 96 88 92 76 90 94 86 74 92 84 90 86 76 88 84 92 74 86 88 92",
  "1 1 1 2 25 94 88 74 96 90 86 76 88 84 90 96 74 92 88 84 76 94 86 92 88 74 84 90 86 88 76 84 90 96 74 88 92 84 90",
  "1 1 1 2 15 70 92 88 76 94 90 84 74 88 96 86 76 84 92 88 74 86 90 84 96 76 92 86 90 74 92 88 94 76 90 88 84 92 68",
];
const TN025_RN5 = [
  "1 1 1 1 1 1 1 1 1 1 1 1 1 1 1 1 1 1 1 1 1 15 1 1 1 1 1 1 1 1 25 30 36 30 1 25 32 26 22",
  "1 1 1 4 20 62 53 82 42 32 70 79 71 71 58 86 74 65 86 81 80 79 83 70 90 80 80 60 68 33 60 68 80 81 81 87 82 89 41 90",
  "1 1 1 1 1 1 1 1 1 1 1 1 1 1 23 26 22 26 21 21 26 19 21 17 33 44 1 43 48 41 31 31 1 40 2 1 1 1 2 2",
  "1 1 1 1 1 1 1 1 1 1 1 1 1 1 1 1 1 1 1 1 1 1 1 1 2 2 42 1 44 38 38 49 41 41 46 46 45 38 1",
  "1 1 1 1 1 17 24 20 60 76 72 59 93 71 71 47 73 76 79 83 81 79 67 82 81 69 82 50 76 55 75 77 68 80 65 70 82 92 88 65",
  "1 1 1 1 1 1 1 1 1 1 1 1 1 23 24 14 18 5 15 21 24 25 24 19 32 23 27 1 24 10 25 28 25 22 28 30 30 26 31",
  "1 1 1 1 1 17 20 1 20 21 11 16 1 1 1 18 1 21 21 1 1 1 33 1 31 1 30 31 34 32 30 28 25 30 31 29 28 27 26",
  "1 1 1 1 1 1 1 1 1 1 1 1 1 1 1 1 1 5 93 79 80 49 64 58 53 88 84 82 76 72 51 75 70 54 74 56 82 75 70 86",
  "1 1 1 2 12 1 16 22 10 49 20 33 21 24 26 30 35 21 30 25 27 25 25 17 13 30 23 24 19 26 20 35 26 15 22 24 25 19 13",
  FLAT_B,
];
const TN025_RN10 = [
  "1 1 1 1 1 1 26 31 27 1 32 20 27 15 1 1 1 39 17 10 13 11 20 22 21 25 22 42 40 49 38 1 35 33 36 34 1 38 36 44",
  FLAT_A,
  "1 1 1 1 1 1 1 1 1 1 34 1 1 1 1 1 1 1 1 1 1 1 19 20 1 1 16 17 12 1 20 1 19 13 13 21 23 24 16",
  "1 1 1 1 1 1 1 1 13 1 10 13 34 16 21 29 16 29 18 20 17 14 33 28 28 23 32 1 30 30 30 1 1 1 1 26 1 29 34 1",
  "1 1 1 1 1 1 1 1 1 1 1 1 1 1 1 1 1 1 1 1 1 1 2 2 2 2 1 1 1 1 1 2 2 1 2 2 2 2 1",
  "1 1 1 1 1 1 1 1 1 1 18 1 1 1 1 1 1 1 1 1 1 1 1 10 14 16 15 1 1 10 16 14 15 15 12 1 1 20 1",
  FLAT_B,
  "1 1 1 1 1 1 1 1 10 10 22 23 21 16 20 12 21 26 26 28 22 19 24 24 27 25 21 25 27 22 25 26 24 29 24 23 22 26 22",
  "1 1 1 2 2 3 1 57 20 1 34 23 10 14 31 15 5 22 52 17 15 24 20 10 1 39 1 42 42 47 45 30 49 37 53 30 1 1 1",
  FLAT_C,
];
const TN025_RN25 = [
  "1 1 2 2 6 20 36 19 26 1 1 1 1 1 1 1 1 1 1 1 18 18 21 9 15 29 29 26 30 23 33 28 1 37 27 27 30 38 35 41",
  "1 1 3 1 10 1 1 1 2 1 1 1 1 1 1 1 1 1 1 1 1 1 1 1 1 1 1.2 1 1 1 1 1 1 1 1 1.2 1.5 1 1 1",
  "1 1 1 1 1 1 1 1 1 1 1 1 1 1 1 1 1 1 1 1 1 1 1 1 1 1 1 1 1 1 1 24 27 26 20 23 29 27 28 25",
  "1 1 1 2 28 20 34 1 1 1 1 1 1 1 1 1 1 1 1 1 1 1 1 1 1 1 1 1 1 1 1 5 25 47 28 16 42 40 42",
  "1 1 1 2 2 21 22 1 1 1 1 1 1 1 1 1 1 1 1 1 1 1 24 24 25 18 21 24 25 20 25 17 23 23 20 21 24 23 20 24",
  "1 1 1 1 1 1 1 1 1 1 1 1 1 1 1 1 1 1 1 1 19 1 1 1 27 32 19 26 22 26 1 27 26 29 20 21 30 1 1 1",
  FLAT_B,
  "1 1 1 2 5 25 1 1 1 1 1 1 1 1 1 1 1 1 1 1 1 1 1 1 1 1 1 1 1 1 1 1 1 1 1 1 1 1 1",
  "1 1 1 1 1 1 1 1 1 1 1 1 1 1 1 1 1 1 1 1 1 1 1 1 1 1 1 1 1 1 1 1 1 1 29 32 30 27 29 28",
  FLAT_C,
];

const GRID = [
  [TN0_RN0, TN0_RN1, TN0_RN5, TN0_RN10, TN0_RN25],
  [TN001_RN0, TN001_RN1, TN001_RN5, TN001_RN10, TN001_RN25],
  [TN002_RN0, TN002_RN1, TN002_RN5, TN002_RN10, TN002_RN25],
  [TN01_RN0, TN01_RN1, TN01_RN5, TN01_RN10, TN01_RN25],
  [TN025_RN0, TN025_RN1, TN025_RN5, TN025_RN10, TN025_RN25],
];

// ---------- layout ----------
const W = 2569;
const H = 1494;
const COL_LEFT = [62, 577.5, 1092, 1608, 2123];
const COL_RIGHT = [502, 1016, 1531, 2048, 2552];
const ROW_TOP = [27, 326.3, 625.6, 924.9, 1224.2];
const PLOT_H = 222;
const FONT = "'DejaVu Sans', 'Bitstream Vera Sans', 'Verdana', sans-serif";
const TICK_FS = 14.6;
const LABEL_FS = 15;
const TITLE_FS = 17.9;

// DejaVu Sans advance widths (units per em = 2048), used to give every text the width matplotlib gives it
const ADV: Record<string, number> = {
  " ": 651, ",": 651, ".": 651,
  "0": 1303, "1": 1303, "2": 1303, "3": 1303, "4": 1303, "5": 1303, "6": 1303, "7": 1303, "8": 1303, "9": 1303,
  T: 1251, N: 1532, R: 1423,
  a: 1255, d: 1300, e: 1260, i: 569, m: 1995, n: 1298, o: 1253, p: 1300, r: 842, s: 1067, t: 803, w: 1675,
};
function textW(s: string, size: number): number {
  let u = 0;
  for (const ch of s) u += ADV[ch] ?? 1200;
  return (u / 2048) * size;
}

function FitText(props: { x?: number; y?: number; size: number; anchor: string; text: string; transform?: string; dy?: string }) {
  const { x, y, size, anchor, text, transform, dy } = props;
  return (
    <text
      x={x}
      y={y}
      dy={dy}
      transform={transform}
      textAnchor={anchor}
      fontSize={size}
      fill="#000"
      textLength={textW(text, size)}
      lengthAdjust="spacingAndGlyphs"
    >
      {text}
    </text>
  );
}

function parse(s: string): number[] {
  return s.trim().split(/\s+/).map(Number).slice(0, TIMESTEPS.length);
}

function Panel({ r, c }: { r: number; c: number }) {
  const series = GRID[r][c].map(parse);
  const left = COL_LEFT[c];
  const right = COL_RIGHT[c];
  const top = ROW_TOP[r];
  const bottom = top + PLOT_H;

  const maxLen = d3.max(series, (s) => s.length) as number;
  const xMin = TIMESTEPS[0];
  const xMax = TIMESTEPS[maxLen - 1];
  const xPad = (xMax - xMin) * 0.05;
  const x = d3.scaleLinear().domain([xMin - xPad, xMax + xPad]).range([left, right]);

  const all = series.flat();
  const yMin = d3.min(all) as number;
  const yMax = d3.max(all) as number;
  const yPad = (yMax - yMin) * 0.05;
  const y = d3.scaleLinear().domain([yMin - yPad, yMax + yPad]).range([bottom, top]);
  const [d0, d1] = y.domain();
  const yTicks = y.ticks(5).filter((t) => t >= d0 && t <= d1);

  const line = d3
    .line<number>()
    .x((_, i) => x(TIMESTEPS[i]))
    .y((d) => y(d));

  const maxLabelW = d3.max(yTicks, (t) => textW(String(t), TICK_FS)) as number;
  const tickLabelRight = left - 7.6;
  const yLabelX = tickLabelRight - maxLabelW - 6;
  const midY = (top + bottom) / 2;
  const midX = (left + right) / 2;
  const title = `Transition Noise ${TRANSITION_NOISE[r]}, Reward Noise ${REWARD_NOISE[c]}`;

  return (
    <g>
      {series.map((s, i) => (
        <path
          key={i}
          d={line(s) || ""}
          fill="none"
          stroke={COLORS[i]}
          strokeWidth={1.7}
          strokeLinejoin="round"
          strokeLinecap="butt"
        />
      ))}
      <rect x={left} y={top} width={right - left} height={PLOT_H} fill="none" stroke="#000" strokeWidth={1.1} />
      {X_TICKS.map((t) => (
        <g key={"x" + t}>
          <line x1={x(t)} x2={x(t)} y1={bottom} y2={bottom + 4.5} stroke="#000" strokeWidth={1.1} />
          <FitText x={x(t)} y={bottom + 18.4} size={TICK_FS} anchor="middle" text={String(t)} />
        </g>
      ))}
      {yTicks.map((t) => (
        <g key={"y" + t}>
          <line x1={left - 4.5} x2={left} y1={y(t)} y2={y(t)} stroke="#000" strokeWidth={1.1} />
          <FitText x={tickLabelRight} y={y(t)} dy="0.36em" size={TICK_FS} anchor="end" text={String(t)} />
        </g>
      ))}
      <FitText x={midX} y={bottom + 37.8} size={LABEL_FS} anchor="middle" text="Train Timesteps" />
      <FitText
        transform={`translate(${yLabelX},${midY}) rotate(-90)`}
        size={LABEL_FS}
        anchor="middle"
        text="Reward"
      />
      <FitText x={midX} y={top - 6.3} size={TITLE_FS} anchor="middle" text={title} />
    </g>
  );
}

export default function App() {
  const cells: { r: number; c: number }[] = [];
  TRANSITION_NOISE.forEach((_, r) => REWARD_NOISE.forEach((__, c) => cells.push({ r, c })));
  return (
    <svg
      width={W}
      height={H}
      viewBox={`0 0 ${W} ${H}`}
      style={{ position: "absolute", left: 0, top: 0, display: "block", background: "#fff", fontFamily: FONT }}
    >
      <rect x={0} y={0} width={W} height={H} fill="#fff" />
      {cells.map(({ r, c }) => (
        <Panel key={`${r}-${c}`} r={r} c={c} />
      ))}
    </svg>
  );
}
